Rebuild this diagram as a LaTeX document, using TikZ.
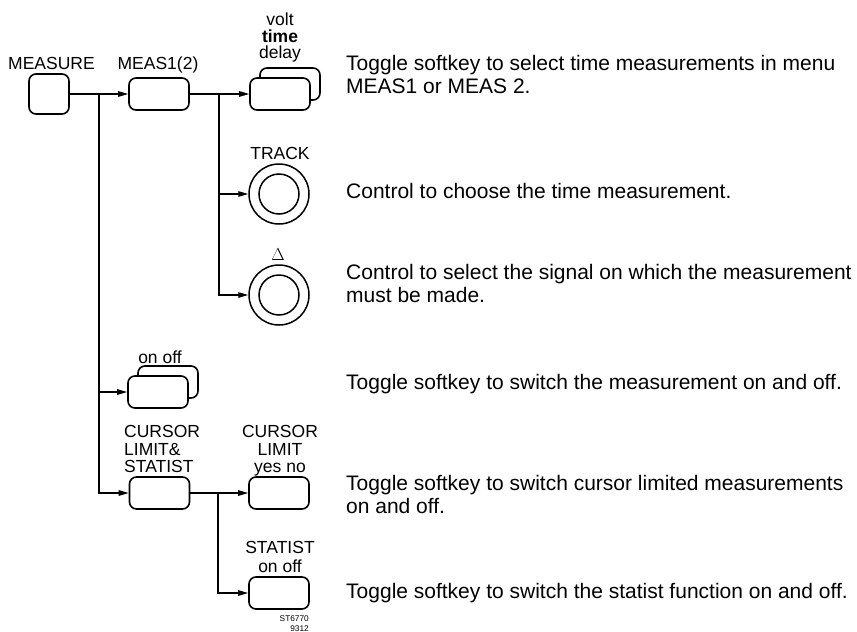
\documentclass[tikz,border=0pt]{standalone}
\usepackage{fontspec}
\setmainfont{Liberation Sans}
\usetikzlibrary{arrows.meta}
\begin{document}
\begin{tikzpicture}[x=1pt,y=-1pt,
  ln/.style={line width=1.3pt, draw=black},
  arr/.style={ln, -{Triangle[length=10pt,width=5.5pt]}},
  key/.style={draw, line width=1.6pt, rounded corners=7pt, minimum width=60pt, minimum height=32pt, inner sep=0pt, fill=white},
  knob/.style={draw, circle, line width=1.5pt, inner sep=0pt},
  lbl/.style={font=\fontsize{17.5}{18}\selectfont, inner sep=0pt, anchor=base},
  txt/.style={font=\fontsize{21}{24}\selectfont, inner sep=0pt, anchor=base west},
  tiny/.style={font=\fontsize{8.3}{10}\selectfont, inner sep=0pt, anchor=base east}]
\useasboundingbox (0,0) rectangle (857,632);

% keys
\node[key, minimum width=40pt, minimum height=40pt] (measure) at (49,94) {};
\node[key] (meas1) at (159,94) {};
\node[key] (voltback) at (290,84) {};
\node[key] (volt) at (280,94) {};
\node[knob, minimum size=60pt] (track) at (279,194) {};
\node[knob, minimum size=40pt] (trackin) at (279,194) {};
\node[knob, minimum size=60pt] (delta) at (279,295) {};
\node[knob, minimum size=40pt] (deltain) at (279,295) {};
\node[key] (onoffback) at (168,382) {};
\node[key] (onoff) at (158,392) {};
\node[key] (cls) at (159.5,493) {};
\node[key] (climit) at (279,493) {};
\node[key] (statist) at (279,593) {};

% labels
\node[lbl] (lmeasure) at (51.5,69) {MEASURE};
\node[lbl] (lmeas1) at (158,69) {MEAS1(2)};
\node[lbl] (lvolt) at (280,25) {volt};
\node[lbl, font=\fontsize{17.5}{18}\selectfont\bfseries] (ltime) at (280,42) {time};
\node[lbl] (ldelay) at (280,58) {delay};
\node[lbl] (ltrack) at (280,159) {TRACK};
\node[lbl, font=\fontsize{19}{18}\selectfont] (ldelta) at (278,260) {$\Delta$};
\node[lbl] (lonoff) at (160,363) {on off};
\node[lbl, anchor=base west] (lc1) at (124,437) {CURSOR};
\node[lbl, anchor=base west] (lc2) at (124,455) {LIMIT\&};
\node[lbl, anchor=base west] (lc3) at (124,472) {STATIST};
\node[lbl] (ll1) at (280,437) {CURSOR};
\node[lbl] (ll2) at (280,455) {LIMIT};
\node[lbl] (ll3) at (280,472) {yes no};
\node[lbl] (ls1) at (280,553) {STATIST};
\node[lbl] (ls2) at (280,572) {on off};
\node[tiny] (code1) at (309,621) {ST6770};
\node[tiny] (code2) at (309,631) {9312};

% connectors
\coordinate (j1) at (99,94);
\coordinate (j2) at (219,94);
\coordinate (j3) at (218,493);
\draw[arr] (measure.east) -- (meas1.west);
\draw[arr] (meas1.east) -- (volt.west);
\draw[arr] (j1) |- (onoff.west);
\draw[arr] (j1) |- (cls.west);
\draw[arr] (j2) |- (track.west);
\draw[arr] (j2) |- (delta.west);
\draw[arr] (cls.east) -- (climit.west);
\draw[arr] (j3) |- (statist.west);

% descriptions
\node[txt] (t1a) at (346,70) {Toggle softkey to select time measurements in menu};
\node[txt] (t1b) at (346,93) {MEAS1 or MEAS 2.};
\node[txt] (t2) at (346,198) {Control to choose the time measurement.};
\node[txt] (t3a) at (346,279) {Control to select the signal on which the measurement};
\node[txt] (t3b) at (346,302) {must be made.};
\node[txt] (t4) at (346,389) {Toggle softkey to switch the measurement on and off.};
\node[txt] (t5a) at (346,490) {Toggle softkey to switch cursor limited measurements};
\node[txt] (t5b) at (346,513) {on and off.};
\node[txt] (t6) at (346,598) {Toggle softkey to switch the statist function on and off.};
\end{tikzpicture}
\end{document}
